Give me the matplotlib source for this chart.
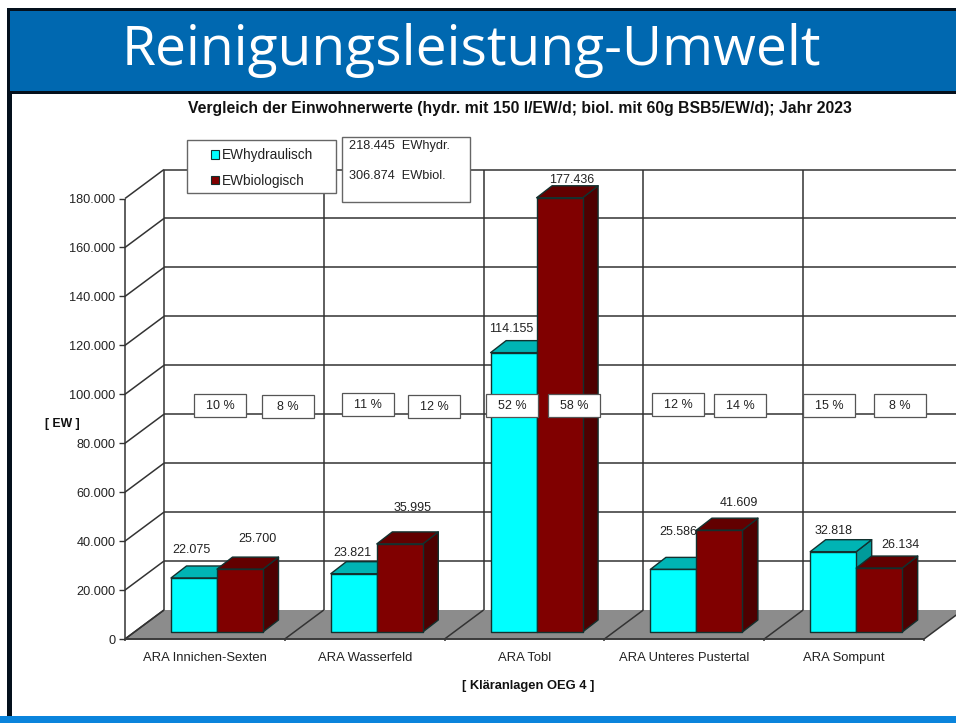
import matplotlib
matplotlib.use("Agg")
import matplotlib.pyplot as plt
from matplotlib.patches import Rectangle, Polygon, Patch
from matplotlib.lines import Line2D

W, H = 956, 723
categories = ["ARA Innichen-Sexten", "ARA Wasserfeld", "ARA Tobl", "ARA Unteres Pustertal", "ARA Sompunt"]
ew_hydr = [22075, 23821, 114155, 25586, 32818]
ew_biol = [25700, 35995, 177436, 41609, 26134]
pct_hydr = ["10 %", "11 %", "52 %", "12 %", "15 %"]
pct_biol = ["8 %", "12 %", "58 %", "14 %", "8 %"]
yticks = list(range(0, 180001, 20000))
series_names = ["EWhydraulisch", "EWbiologisch"]
totals = ["218.445  EWhydr.", "306.874  EWbiol."]
title = "Reinigungsleistung-Umwelt"
subtitle = "Vergleich der Einwohnerwerte (hydr. mit 150 l/EW/d; biol. mit 60g BSB5/EW/d); Jahr 2023"

plt.rcParams["font.family"] = ["Liberation Sans", "DejaVu Sans"]
fig = plt.figure(figsize=(W / 100, H / 100), dpi=100, facecolor="white")

def fx(x): return x / W
def fy(y): return 1 - y / H

def page_rect(x0, y0, x1, y1, z=0, **kw):
    r = Rectangle((fx(x0), fy(y1)), (x1 - x0) / W, (y1 - y0) / H, transform=fig.transFigure, zorder=z, **kw)
    fig.add_artist(r)
    return r

# slide frame
page_rect(7, 8, W, 94, z=0, fc="#04101c", ec="none")
page_rect(10, 11, W, 91, z=1, fc="#0068b0", ec="none")
page_rect(7, 94, 12, 716, z=1, fc="#04101c", ec="none")
page_rect(0, 716, W, H, z=1, fc="#0a84dc", ec="none")
fig.text(fx(471), fy(65), title, color="white", fontsize=39.7, family="Open Sans", ha="center", va="baseline", zorder=3)

# chart axes: front plane
left, right, bottom, top = 125, 924, 639, 198.5
ax = fig.add_axes([fx(left), fy(bottom), (right - left) / W, (bottom - top) / H], facecolor="none")
ax.set_xlim(0, 5)
ax.set_ylim(0, 180000)
ux = (right - left) / 5
uy = (bottom - top) / 180000
ddx, ddy = 39 / ux, 29 / uy          # wall depth, data units
for s in ax.spines.values():
    s.set_visible(False)
ax.set_xticks([i + 0.5 for i in range(5)], categories, va="baseline")
ax.set_yticks(yticks, ["0" if v == 0 else f"{v // 1000}.000" for v in yticks])
ax.tick_params(axis="x", length=0, pad=16, labelsize=9.4, labelcolor="#222222")
ax.tick_params(axis="y", length=4, width=1, color="#333333", pad=3, labelsize=9.2, labelcolor="#222222")

gridc = "#333333"
def ln(xs, ys, z=1, c=gridc, lw=1.1):
    ax.add_line(Line2D(xs, ys, color=c, lw=lw, zorder=z, clip_on=False, solid_capstyle="butt"))

# floor
ax.add_patch(Polygon([(0, 0), (ddx, ddy), (5 + ddx, ddy), (5, 0)], fc="#8c8c8c", ec="none", zorder=1, clip_on=False))
# walls
for v in yticks:
    ln([0, ddx], [v, v + ddy])
    if v > 0:
        ln([ddx, 5 + ddx], [v + ddy, v + ddy])
ln([0, 0], [0, 180000])
for i in range(6):
    ln([i + ddx, i + ddx], [ddy, 180000 + ddy])
    ln([i, i + ddx], [0, ddy], z=2)
    ln([i, i], [0, -1000], z=2)
ln([0, 5], [0, 0], z=2, c="#3a3a3a", lw=1.4)

# 3D bars
bar_off = 46 / ux
bar_w = 46 / ux
base_dx, base_dy = 9.4 / ux, 7 / uy
bar_ddx, bar_ddy = 15.5 / ux, 12 / uy
def bar3d(x0, v, front, topc, side, z):
    x1 = x0 + bar_w
    y0, y1 = base_dy, base_dy + v
    e = dict(ec="#12312f", lw=1.0, zorder=z, clip_on=False, joinstyle="round")
    ax.add_patch(Polygon([(x1, y0), (x1 + bar_ddx, y0 + bar_ddy), (x1 + bar_ddx, y1 + bar_ddy), (x1, y1)], fc=side, **e))
    ax.add_patch(Polygon([(x0, y1), (x0 + bar_ddx, y1 + bar_ddy), (x1 + bar_ddx, y1 + bar_ddy), (x1, y1)], fc=topc, **e))
    ax.add_patch(Rectangle((x0, y0), bar_w, v, fc=front, **e))

for i in range(5):
    x = i + bar_off
    bar3d(x, ew_hydr[i], "#00ffff", "#00b4b4", "#009a9a", 3 + i * 2)
    bar3d(x + bar_w, ew_biol[i], "#800000", "#620000", "#4e0000", 4 + i * 2)

# value labels
label_offsets_hydr = [(-3, 28), (-1, 21), (-2, 24), (5, 37), (0, 21)]
label_offsets_biol = [(17, 30), (13, 36), (12, 18), (19, 27), (21, 23)]
def vlabel(x_bar, v, off):
    ax.annotate(f"{v // 1000}.{v % 1000:03d}", (x_bar + bar_w / 2, v + base_dy), xytext=off,
                textcoords=("offset pixels"), ha="center", va="center", fontsize=9, color="#222222",
                zorder=30, annotation_clip=False)
for i in range(5):
    x = i + bar_off
    vlabel(x, ew_hydr[i], label_offsets_hydr[i])
    vlabel(x + bar_w, ew_biol[i], label_offsets_biol[i])

# percentage boxes
boxes_h = [(194, 394), (342, 393), (486, 394), (652, 393), (803, 394)]
boxes_b = [(262, 395), (408, 395), (548, 394), (714, 394), (874, 394)]
def pct_box(pos, s):
    x, y = pos
    w, h = 52, 23
    fig.add_artist(Rectangle((fx(x), fy(y + h)), w / W, h / H, transform=fig.transFigure, fc="white",
                             ec="#555555", lw=0.9, zorder=40))
    fig.text(fx(x + w / 2), fy(y + h / 2 + 0.5), s, ha="center", va="center", fontsize=9, color="#222222", zorder=41)
for i in range(5):
    pct_box(boxes_h[i], pct_hydr[i])
    pct_box(boxes_b[i], pct_biol[i])

# legend and totals
fig.add_artist(Rectangle((fx(187), fy(193)), 149 / W, 53 / H, transform=fig.transFigure, fc="white", ec="#666666", lw=1, zorder=40))
fig.add_artist(Rectangle((fx(342), fy(202)), 128 / W, 65 / H, transform=fig.transFigure, fc="white", ec="#666666", lw=1, zorder=40))
handles = [Patch(fc="#00ffff", ec="#12312f", lw=0.8, label=series_names[0]),
           Patch(fc="#800000", ec="#12312f", lw=0.8, label=series_names[1])]
leg = fig.legend(handles=handles, loc="upper left", bbox_to_anchor=(fx(199), fy(136)), frameon=False, fontsize=9.8,
                 handlelength=0.6, handleheight=0.6, handletextpad=0.2, labelspacing=0.85, labelcolor="#222222")
leg.set_zorder(42)
fig.text(fx(349), fy(146.5), totals[0], ha="left", va="center", fontsize=9.2, color="#222222", zorder=42)
fig.text(fx(349), fy(176), totals[1], ha="left", va="center", fontsize=9.2, color="#222222", zorder=42)

# captions
fig.text(fx(520), fy(108), subtitle, ha="center", va="center", fontsize=11.3, fontweight="bold", color="#111111", zorder=42)
fig.text(fx(62), fy(424), "[ EW ]", ha="center", va="center", fontsize=8.8, fontweight="bold", color="#111111", zorder=42)
fig.text(fx(528), fy(686), "[ Kläranlagen OEG 4 ]", ha="center", va="center", fontsize=9.3, fontweight="bold", color="#111111", zorder=42)

fig.savefig("out.png", dpi=100)
